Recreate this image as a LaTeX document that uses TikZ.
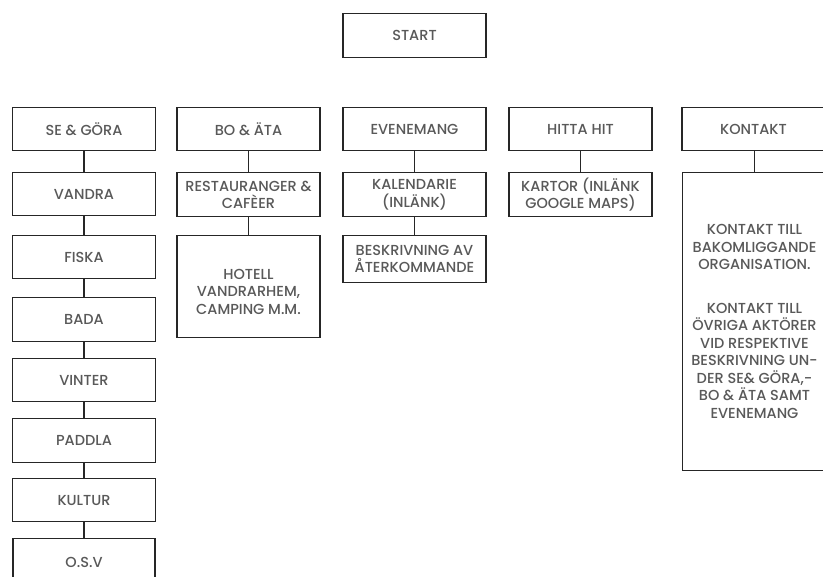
\documentclass[tikz,border=0pt]{standalone}
\usepackage{fontspec}
\setmainfont{Poppins}[UprightFont={* Medium}]
\begin{document}
\begin{tikzpicture}[x=1pt,y=-1pt,
  box/.style={draw=black!85, line width=1.3pt, fill=white, minimum width=143pt, inner sep=0pt, anchor=north, align=center, font=\fontsize{14.5}{17.5}\selectfont, text=black!65},
  link/.style={draw=black!85, line width=1.3pt}]
\useasboundingbox (0,0) rectangle (823,577);
\clip (0,0) rectangle (823,577);
% top
\node[box, minimum height=44pt] (start) at (414.5,13) {START};
% row 1
\node[box, minimum height=43pt] (se) at (84,107) {SE \& GÖRA};
\node[box, minimum height=43pt] (bo) at (248.5,107) {BO \& ÄTA};
\node[box, minimum height=43pt] (ev) at (414.5,107) {EVENEMANG};
\node[box, minimum height=43pt] (hi) at (580.5,107) {HITTA HIT};
\node[box, minimum height=43pt] (ko) at (753.5,107) {KONTAKT};
% column 1
\node[box, minimum height=43pt] (va) at (84,172) {VANDRA};
\node[box, minimum height=43pt] (fi) at (84,235) {FISKA};
\node[box, minimum height=44pt] (ba) at (84,297) {BADA};
\node[box, minimum height=43pt] (vi) at (84,358) {VINTER};
\node[box, minimum height=44pt] (pa) at (84,418) {PADDLA};
\node[box, minimum height=43pt] (ku) at (84,478) {KULTUR};
\node[box, minimum height=48pt, minimum width=142pt] (os) at (84,538) {O.S.V};
% column 2
\node[box, minimum height=44pt] (re) at (248.5,172) {RESTAURANGER \&\\CAFÈER};
\node[box, minimum height=102pt] (ho) at (248.5,235) {\\[3pt]HOTELL\\VANDRARHEM,\\CAMPING M.M.};
% column 3
\node[box, minimum height=44pt] (ka) at (414.5,172) {KALENDARIE\\(INLÄNK)};
\node[box, minimum height=47pt] (be) at (414.5,235) {BESKRIVNING AV\\ÅTERKOMMANDE};
% column 4
\node[box, minimum height=44pt] (kt) at (580.5,172) {KARTOR (INLÄNK\\GOOGLE MAPS)};
% column 5
\node[box, minimum height=298pt, minimum width=144pt] (kk) at (754.5,172) {KONTAKT TILL\\BAKOMLIGGANDE\\ORGANISATION.\\[26pt]KONTAKT TILL\\ÖVRIGA AKTÖRER\\VID RESPEKTIVE\\BESKRIVNING UN-\\DER SE\& GÖRA,-\\BO \& ÄTA SAMT\\EVENEMANG};
% connectors
\draw[link] (se) -- (va);
\draw[link] (va) -- (fi);
\draw[link] (fi) -- (ba);
\draw[link] (ba) -- (vi);
\draw[link] (vi) -- (pa);
\draw[link] (pa) -- (ku);
\draw[link] (ku) -- (os);
\draw[link] (bo) -- (re);
\draw[link] (re) -- (ho);
\draw[link] (ev) -- (ka);
\draw[link] (ka) -- (be);
\draw[link] (hi) -- (kt);
\draw[link] (ko.south -| kk.north) -- (kk.north);
\end{tikzpicture}
\end{document}
